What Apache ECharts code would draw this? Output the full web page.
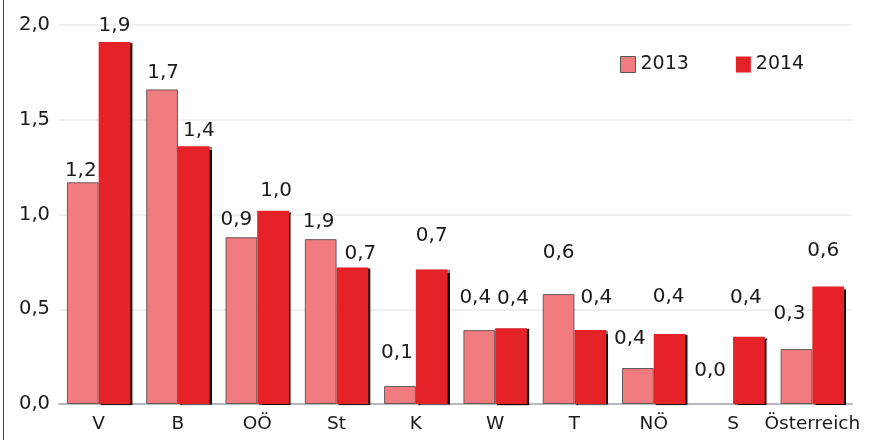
<!DOCTYPE html>
<html>
<head>
<meta charset="utf-8">
<script src="https://cdn.jsdelivr.net/npm/echarts@6/dist/echarts.min.js"></script>
<style>
html,body{margin:0;padding:0;background:#fff;}
#chart{width:870px;height:440px;}
</style>
</head>
<body>
<div id="chart"></div>
<script>
// ---- data ----
const categories = ['V', 'B', 'OÖ', 'St', 'K', 'W', 'T', 'NÖ', 'S', 'Österreich'];
const seriesNames = ['2013', '2014'];
const values2013 = [1.17, 1.66, 0.88, 0.87, 0.095, 0.39, 0.58, 0.19, 0, 0.29];
const values2014 = [1.91, 1.36, 1.02, 0.72, 0.71, 0.40, 0.39, 0.37, 0.355, 0.62];
const labels2013 = ['1,2', '1,7', '0,9', '1,9', '0,1', '0,4', '0,6', '0,4', '0,0', '0,3'];
const labels2014 = ['1,9', '1,4', '1,0', '0,7', '0,7', '0,4', '0,4', '0,4', '0,4', '0,6'];
const yTicks = [0, 0.5, 1.0, 1.5, 2.0];

// ---- layout (label placement, px) ----
const lift2013 = [12, 18, 18, 18, 34, 33, 42, 30, 34, 36];
const lift2014 = [17, 16, 21, 15, 35, 30, 33, 38, 40, 37];
const dx2013 = [-2, 1, -5, -2, -3, -4, 0, -8, -7, -7];
const dx2014 = [0, 5, 3, 8, 0, 2, 6, -1, -3, -5];

const FONT = 'DejaVu Sans';
const c2013 = '#F07C80';
const c2014 = '#E42228';

function mkData(vals, labels, lift, dx) {
  return vals.map((v, i) => {
    const d = {
      value: v,
      label: {
        formatter: labels[i],
        offset: [dx[i], -(lift[i] - 16)]
      }
    };
    if (v === 0) d.itemStyle = {borderWidth: 0, color: 'rgba(0,0,0,0)', shadowColor: 'rgba(0,0,0,0)'};
    return d;
  });
}

const chart = echarts.init(document.getElementById('chart'), null, {renderer: 'canvas'});
chart.setOption({
  animation: false,
  backgroundColor: '#fff',
  grid: {left: 59, right: 18, top: 25, bottom: 36, containLabel: false},
  legend: {
    data: [
      {name: seriesNames[0], itemStyle: {color: c2013, borderColor: '#555', borderWidth: 1}},
      {name: seriesNames[1], itemStyle: {color: c2014, borderColor: c2014, borderWidth: 0}}
    ],
    left: 615, top: 50,
    itemWidth: 15, itemHeight: 16, itemGap: 47,
    icon: 'rect',
    textStyle: {fontFamily: FONT, fontSize: 19, color: '#1a1a1a'}
  },
  xAxis: {
    type: 'category',
    data: categories,
    axisLine: {lineStyle: {color: '#b5b9bd', width: 2}},
    axisTick: {show: false},
    axisLabel: {fontFamily: FONT, fontSize: 18.5, color: '#1a1a1a', margin: 11, interval: 0}
  },
  yAxis: {
    type: 'value',
    min: 0, max: 2, interval: 0.5,
    axisLine: {show: false},
    axisTick: {show: false},
    splitLine: {lineStyle: {color: '#f0f0f0', width: 2}},
    axisLabel: {
      fontFamily: FONT, fontSize: 19.5, color: '#1a1a1a', margin: 9,
      formatter: v => yTicks.includes(v) ? v.toFixed(1).replace('.', ',') : ''
    }
  },
  series: [
    {
      name: seriesNames[0], type: 'bar',
      data: mkData(values2013, labels2013, lift2013, dx2013),
      barGap: '0%', barCategoryGap: '20%',
      itemStyle: {color: c2013, borderColor: '#6a5a5a', borderWidth: 1},
      label: {show: true, position: 'top', distance: 5, fontFamily: FONT, fontSize: 20, color: '#1a1a1a'}
    },
    {
      name: seriesNames[1], type: 'bar',
      data: mkData(values2014, labels2014, lift2014, dx2014),
      barGap: '0%', barCategoryGap: '20%',
      itemStyle: {color: c2014, shadowColor: 'rgba(0,0,0,0.95)', shadowOffsetX: 2, shadowOffsetY: 1, shadowBlur: 1},
      label: {show: true, position: 'top', distance: 5, fontFamily: FONT, fontSize: 20, color: '#1a1a1a'}
    }
  ],
  graphic: [
    {type: 'line', shape: {x1: 3.5, y1: 0, x2: 3.5, y2: 440}, style: {stroke: '#444', lineWidth: 1}}
  ]
});
</script>
</body>
</html>
